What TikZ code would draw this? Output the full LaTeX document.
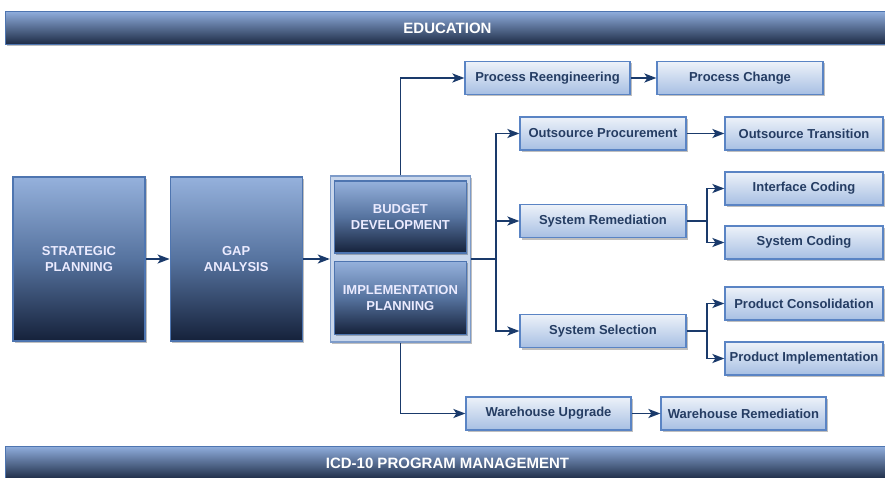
\documentclass[tikz,border=0pt]{standalone}
\usepackage{fontspec}
\setmainfont{Liberation Sans}
\usetikzlibrary{arrows.meta,shadows}
\usetikzlibrary{positioning}

\definecolor{wire}{HTML}{1A3A6B}
\definecolor{bartop}{HTML}{8FADDC}
\definecolor{barbot}{HTML}{1C2A44}
\definecolor{bigtop}{HTML}{95B1DC}
\definecolor{bigmid}{HTML}{56739F}
\definecolor{bigbot}{HTML}{15213A}
\definecolor{bigedge}{HTML}{4E75B0}
\definecolor{holdfill}{HTML}{C8D6EB}
\definecolor{holdedge}{HTML}{7D9BC9}
\definecolor{litetop}{HTML}{EDF2F9}
\definecolor{litebot}{HTML}{A7BFE3}
\definecolor{liteedge}{HTML}{5A84C4}
\definecolor{litetext}{HTML}{253D63}

\begin{document}
\begin{tikzpicture}[x=1pt, y=-1pt,
    shade/.style={drop shadow={shadow xshift=1.5pt, shadow yshift=-2pt, fill=black, opacity=0.25}},
    banner/.style={shade, draw=bigedge, line width=1pt, top color=bartop, bottom color=barbot,
        minimum width=885, minimum height=33, text=white, font=\fontsize{15}{17}\selectfont\bfseries},
    stage/.style={shade, draw=bigedge, line width=1.2pt, top color=bigtop, bottom color=bigbot, middle color=bigmid,
        text=white!92!blue, align=center, font=\fontsize{13}{16}\selectfont\bfseries,
        minimum width=132, minimum height=164, inner sep=0pt},
    holder/.style={shade, draw=holdedge, line width=1.2pt, fill=holdfill, minimum width=140, minimum height=166},
    task/.style={shade, draw=liteedge, line width=1.2pt, top color=litetop, bottom color=litebot,
        text=litetext, font=\fontsize{13}{15}\selectfont\bfseries, minimum height=33, inner xsep=1pt},
    link/.style={draw=wire, line width=1.8pt},
    flow/.style={link, -{Stealth[length=12pt, width=9pt, inset=3pt]}}
    ]
    \useasboundingbox (0,0) rectangle (885,478);

    % banners
    \node[banner] (edu) at (447.5,28) {EDUCATION};
    \node[banner] (pgm) at (447.5,463) {ICD-10 PROGRAM MANAGEMENT};

    % planning stages
    \node[stage] (strat) at (79,259) {STRATEGIC\\PLANNING};
    \node[stage, right=24pt of strat] (gap) {GAP\\ANALYSIS};
    \node[holder, right=27pt of gap] (cont) {};
    \node[stage, minimum height=72, below=5pt of cont.north] (budget) {BUDGET\\DEVELOPMENT};
    \node[stage, minimum height=73, below=7pt of budget] (impl) {IMPLEMENTATION\\PLANNING};

    % task boxes
    \foreach \name/\cx/\cy/\bw/\txt in {
        reeng/547.5/78/165/Process Reengineering,
        change/740/78/166/Process Change,
        oproc/603/133.5/166/Outsource Procurement,
        otrans/804/133.5/158/Outsource Transition,
        iface/804/188.5/158/Interface Coding,
        sysrem/603/221/166/System Remediation,
        syscode/804/242.5/158/System Coding,
        pcons/804/303.5/158/Product Consolidation,
        syssel/603/331/166/System Selection,
        pimpl/804/358.5/158/Product Implementation,
        whup/548.5/413.5/165/Warehouse Upgrade,
        whrem/743.5/413.5/165/Warehouse Remediation} {
        \node[task, minimum width=\bw] (\name) at (\cx,\cy) {\txt};
    }

    % main flow
    \draw[flow] (strat) -- (gap);
    \draw[flow] (gap) -- (cont);
    \draw[flow] (cont.north) |- (reeng.west);
    \draw[flow] (cont.south) |- (whup.west);

    % bus to the three work streams
    \coordinate (bus) at ([xshift=25pt]cont.east);
    \draw[link] (cont.east) -- (bus);
    \foreach \x in {oproc,sysrem,syssel}
        \draw[flow] (bus) |- (\x.west);

    % forks
    \coordinate (remfork) at ([xshift=20pt]sysrem.east);
    \coordinate (selfork) at ([xshift=20pt]syssel.east);
    \draw[link] (sysrem.east) -- (remfork);
    \draw[link] (syssel.east) -- (selfork);
    \foreach \a/\b in {remfork/iface, remfork/syscode, selfork/pcons, selfork/pimpl}
        \draw[flow] (\a) |- (\b.west);

    % straight pairs
    \foreach \a/\b in {reeng/change, oproc/otrans, whup/whrem}
        \draw[flow] (\a) -- (\b);

\end{tikzpicture}
\end{document}
